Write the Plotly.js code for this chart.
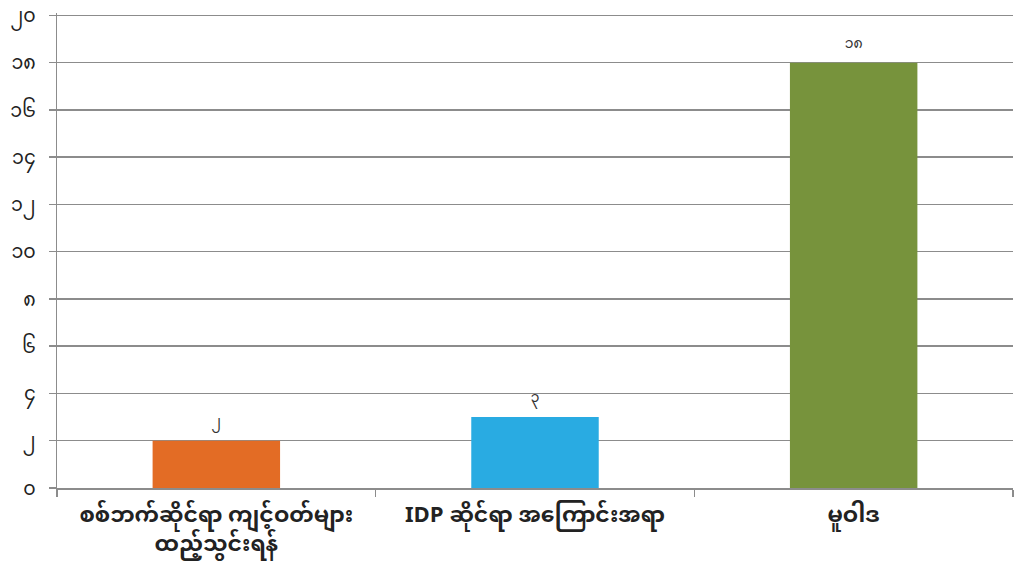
<!DOCTYPE html>
<html>
<head>
<meta charset="utf-8">
<script src="https://cdn.plot.ly/plotly-3.0.1.min.js"></script>
<style>html,body{margin:0;padding:0;background:#fff;}#chart{width:1019px;height:577px;}</style>
</head>
<body>
<div id="chart"></div>
<script>
const categories = ["စစ်ဘက်ဆိုင်ရာ ကျင့်ဝတ်များ<br>ထည့်သွင်းရန်", "IDP ဆိုင်ရာ အကြောင်းအရာ", "မူဝါဒ"];
const values = [2, 3, 18];
const valueLabels = ["၂", "၃", "၁၈"];
const barColors = ["#E36C25", "#29ABE2", "#77933C"];
const yTickVals = [0, 2, 4, 6, 8, 10, 12, 14, 16, 18, 20];
const yTickText = ["၀", "၂", "၄", "၆", "၈", "၁၀", "၁၂", "၁၄", "၁၆", "၁၈", "၂၀"];

const font = '"Noto Sans Myanmar", "Noto Sans", "DejaVu Sans", sans-serif';

const trace = {
  type: 'bar',
  x: categories,
  y: values,
  text: valueLabels,
  textposition: 'outside',
  cliponaxis: false,
  textfont: {family: font, size: 14, color: '#333'},
  marker: {color: barColors},
  width: 0.4,
  hoverinfo: 'none'
};

const layout = {
  width: 1019, height: 577,
  margin: {l: 57, r: 6, t: 13, b: 89},
  paper_bgcolor: '#fff', plot_bgcolor: '#fff',
  showlegend: false,
  font: {family: font, color: '#222'},
  xaxis: {
    type: 'category',
    range: [-0.5, 2.5],
    tickfont: {family: font, size: 22, color: '#222', weight: 'bold'},
    ticks: 'outside', ticklen: 7, tickcolor: '#8c8c8c', tickwidth: 1.5,
    tickson: 'boundaries',
    ticklabelstandoff: 6,
    showline: true, linecolor: '#8c8c8c', linewidth: 1.5,
    showgrid: false, zeroline: false,
    fixedrange: true
  },
  yaxis: {
    range: [0, 20.1],
    tickmode: 'array',
    tickvals: yTickVals,
    ticktext: yTickText,
    tickfont: {family: font, size: 19, color: '#222'},
    ticks: 'outside', ticklen: 7, tickcolor: '#8c8c8c', tickwidth: 1.5,
    ticklabelstandoff: 9,
    ticklabeloverflow: 'allow',
    showline: true, linecolor: '#8c8c8c', linewidth: 1.5,
    showgrid: true, gridcolor: '#8c8c8c', gridwidth: 1.5,
    zeroline: false,
    fixedrange: true
  },
  bargap: 0.6
};

Plotly.newPlot('chart', [trace], layout, {displayModeBar: false, staticPlot: true});
</script>
</body>
</html>
